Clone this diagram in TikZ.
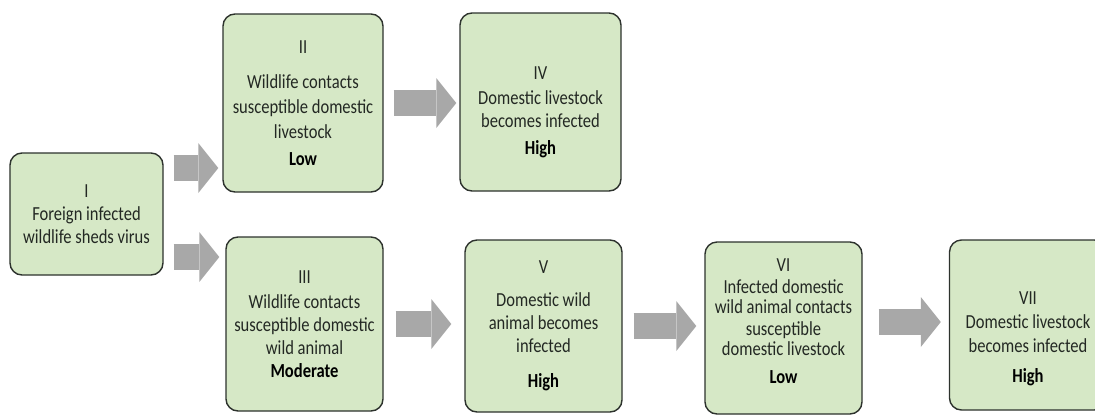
\documentclass[tikz,border=0pt]{standalone}
\usepackage{fontspec}
\setmainfont{Carlito}[FakeStretch=0.83]
\usetikzlibrary{arrows.meta}
\definecolor{boxfill}{RGB}{214,232,198}
\definecolor{boxline}{RGB}{45,50,45}
\definecolor{arrowgray}{RGB}{168,168,168}
\definecolor{txt}{RGB}{35,40,35}
% struts that move a text block down (first line) or up (last line)
\newcommand\pushdown[1]{\rule{0pt}{#1}}
\newcommand\pushup[1]{\rule[-#1]{0pt}{#1}}
\newcommand\risk[1]{\textcolor{black}{\textbf{#1}}}
\begin{document}
\begin{tikzpicture}[x=1bp,y=-1bp,
  stage/.style={draw=boxline, line width=1.4bp, fill=boxfill, rounded corners=12bp,
    align=center, text=txt, inner sep=0pt,
    font=\fontsize{20}{23}\selectfont},
  flow/.style={draw=arrowgray, line width=26bp,
    -{Triangle[length=20bp,width=50bp,line width=0pt]}}
]
\clip (0,0) rectangle (1095,415);

% stages of the transmission pathway
\node[stage, minimum width=153bp, minimum height=122bp] (I) at (86.5,214)
  {I\\Foreign infected\\wildlife sheds virus};
\node[stage, minimum width=160bp, minimum height=178bp] (II) at (303,103)
  {II\\[12bp]Wildlife contacts\\[2bp]susceptible domestic\\[2bp]livestock\\[4bp]\risk{Low}};
\node[stage, minimum width=161bp, minimum height=178bp] (IV) at (540.5,102)
  {\pushdown{33bp}IV\\[2bp]Domestic livestock\\becomes infected\\[4bp]\risk{High}};
\node[stage, minimum width=157bp, minimum height=174bp] (III) at (304.5,324)
  {III\\[2bp]Wildlife contacts\\susceptible domestic\\wild animal\\\risk{Moderate}};
\node[stage, minimum width=157bp, minimum height=172bp] (V) at (543.5,326)
  {V\\[10bp]Domestic wild\\animal becomes\\infected\\[12bp]\risk{High}};
\node[stage, minimum width=157bp, minimum height=172bp] (VI) at (783.5,328)
  {VI\\[-1bp]Infected domestic\\[-2bp]wild animal contacts\\[-1bp]susceptible\\[-3bp]domestic livestock\\[5bp]\risk{Low}\pushup{14bp}};
\node[stage, minimum width=157bp, minimum height=170bp] (VII) at (1028,325)
  {\pushdown{41bp}VII\\[1bp]Domestic livestock\\[1bp]becomes infected\\[7bp]\risk{High}};

% block arrows between stages
\draw[flow, shorten <=10bp, shorten >=4bp] ([yshift=46bp]I.east) -- ([yshift=46bp]II.west |- I.east);
\draw[flow, shorten <=10bp, shorten >=6bp] ([yshift=-43bp]I.east) -- ([yshift=-43bp]III.west |- I.east);
\draw[flow, shorten <=10bp, shorten >=3bp] (II.east) -- (IV.west |- II.east);
\draw[flow, shorten <=12bp, shorten >=13bp] (III.east) -- (V.west |- III.east);
\draw[flow, shorten <=11bp, shorten >=8bp] (V.east) -- (VI.west |- V.east);
\draw[flow, shorten <=16bp, shorten >=8bp] ([yshift=6bp]VI.east) -- ([yshift=6bp]VII.west |- VI.east);
\end{tikzpicture}
\end{document}
